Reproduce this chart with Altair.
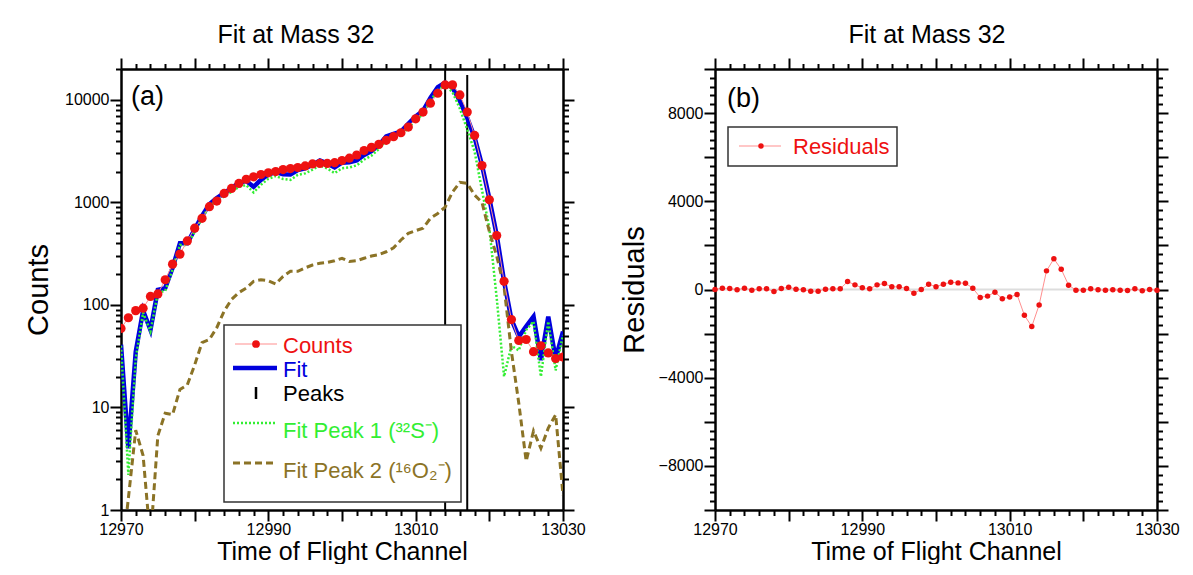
import altair as alt
import pandas as pd

FONT = "Liberation Sans"

# ---------------- data ----------------
channels = list(range(12970, 13031))
counts = [59, 75, 88, 93, 121, 128, 176, 250, 313, 421,
          560, 700, 908, 1030, 1224, 1368, 1530, 1682, 1775, 1871,
          1943, 2000, 2090, 2140, 2190, 2270, 2370, 2400, 2400, 2440,
          2560, 2700, 2900, 3200, 3440, 3680, 4030, 4370, 4780, 5430,
          6540, 7600, 9290, 11600, 13990, 14000, 11180, 7600, 4500, 2290,
          1060, 475, 170, 72, 45, 46, 35, 40, 34, 30, 31]
fit = [41, 4, 35, 88, 57, 140, 146, 230, 400, 400,
       545, 740, 960, 1100, 1230, 1380, 1550, 1620, 1420, 1660,
       1870, 1970, 1880, 1870, 2070, 2150, 2330, 2560, 2400, 2200,
       2440, 2460, 2570, 2900, 3160, 3620, 4390, 4670, 4900, 5850,
       6890, 7830, 10460, 13280, 14690, 13160, 9790, 6680, 4310, 2320,
       1090, 480, 170, 72, 49, 62, 77, 29, 77, 30, 55]
peak1 = [40, 2.2, 30, 84, 55, 132, 137, 222, 385, 383,
         518, 697, 914, 1040, 1143, 1267, 1418, 1474, 1250, 1484,
         1698, 1810, 1690, 1657, 1857, 1920, 2085, 2305, 2140, 1930,
         2155, 2190, 2300, 2615, 2860, 3310, 4060, 4310, 4470, 5350,
         6360, 7270, 9760, 12520, 13850, 11890, 8220, 5150, 3130, 1320,
         560, 117, 20, 40, 36, 57, 69, 20, 69, 23, 51]
peak2 = [0.3, 1.3, 6, 3.4, 0.5, 5.3, 8.8, 8.5, 15, 16.6,
         26, 43, 46, 60, 87, 113, 132, 146, 170, 176,
         172, 160, 190, 213, 213, 230, 245, 255, 260, 270,
         285, 265, 270, 285, 300, 310, 330, 360, 430, 500,
         530, 560, 700, 780, 900, 1260, 1570, 1530, 1180, 1000,
         520, 300, 150, 35, 11, 3, 5.9, 4, 6.3, 8.5, 1.4]
residuals = [0, 60, 45, -15, 60, -30, 30, 30, -90, 45,
             105, 15, -15, -75, -75, 15, 30, 30, 360, 210,
             75, 30, 210, 270, 120, 120, 45, -165, 0, 240,
             120, 240, 330, 300, 285, 60, -360, -300, -120, -420,
             -345, -225, -1170, -1680, -700, 845, 1390, 920, 195, -30,
             -30, 30, -15, -30, -15, -30, -45, 30, -60, 0, -30]
peak_channels = [13014, 13017]
peak_tops = [20000, 17500]

legend_labels = ["Counts", "Fit", "Peaks", "Fit Peak 1 (\u00b3\u00b2S\u207b)",
                 "Fit Peak 2 (\u00b9\u2076O\u2082\u207b)"]
RED = "#ee1111"
PINK = "#ff8f8f"
BLUE = "#0000dd"
GREEN = "#33ee33"
OLIVE = "#8b7326"
legend_colors = [RED, BLUE, "black", GREEN, OLIVE]

x_tick_values = list(range(12970, 13031, 2))
y_log_values = [m * 10 ** e for e in range(0, 5) for m in range(1, 10) if m * 10 ** e <= 20000]
y_lin_values = list(range(-10000, 10001, 400))

df = pd.DataFrame({"ch": channels, "counts": counts, "fit": fit,
                   "p1": peak1, "p2": peak2, "res": residuals})
peaks_df = pd.DataFrame({"ch": peak_channels, "base": [1, 1], "top": peak_tops})
one = pd.DataFrame({"k": [0]})
zero_df = pd.DataFrame({"z": [0]})

xs = alt.Scale(domain=[12970, 13030], nice=False, zero=False)
ys_log = alt.Scale(type="log", domain=[1, 20000], nice=False)
ys_lin = alt.Scale(domain=[-10000, 10000], nice=False, zero=False)

x_tick_size = {"condition": {"test": "datum.value % 10 == 0", "value": 11}, "value": 5.5}
log_tick_size = {"condition": {"test": "indexof([1,10,100,1000,10000], datum.value) >= 0", "value": 11},
                 "value": 5.5}
lin_tick_size = {"condition": {"test": "datum.value % 2000 == 0", "value": 11}, "value": 5.5}

x_bottom = alt.Axis(orient="bottom", values=x_tick_values, tickSize=x_tick_size,
                    labelExpr="datum.value % 20 == 10 ? format(datum.value, 'd') : ''",
                    title="Time of Flight Channel", titlePadding=2, labelPadding=0,
                    titleFontSize=25)
x_top = alt.Axis(orient="top", values=x_tick_values, tickSize=x_tick_size, labels=False, title=None,
                 minExtent=11, maxExtent=11)

y_left_log = alt.Axis(orient="left", values=y_log_values, tickSize=log_tick_size,
                      labelExpr="indexof([1,10,100,1000,10000], datum.value) >= 0 ? format(datum.value, 'd') : ''",
                      title="Counts", minExtent=58, maxExtent=58, titlePadding=10, labelPadding=1)
y_right_log = alt.Axis(orient="right", values=y_log_values, tickSize=log_tick_size, labels=False, title=None,
                       minExtent=11, maxExtent=11)

y_left_lin = alt.Axis(orient="left", values=y_lin_values, tickSize=lin_tick_size,
                      labelExpr="datum.value % 4000 == 0 ? format(datum.value, 'd') : ''",
                      title="Residuals", minExtent=58, maxExtent=58, titlePadding=8, labelPadding=1)
y_right_lin = alt.Axis(orient="right", values=y_lin_values, tickSize=lin_tick_size, labels=False, title=None,
                       minExtent=11, maxExtent=11)


def leg_line(x1, x2, y, color, width, dash=None):
    kw = dict(color=color, strokeWidth=width)
    if dash:
        kw["strokeDash"] = dash
    return alt.Chart(one).mark_rule(**kw).encode(x=alt.value(x1), x2=alt.value(x2), y=alt.value(y))


def leg_text(x, y, text, color):
    return alt.Chart(one).mark_text(text=text, align="left", baseline="middle", font=FONT,
                                    fontSize=22, color=color).encode(x=alt.value(x), y=alt.value(y))


# ---------------- left panel ----------------
frame_l = alt.Chart(df).mark_line(opacity=0).encode(
    x=alt.X("ch:Q", scale=xs, axis=x_top), y=alt.Y("counts:Q", scale=ys_log, axis=y_right_log))
peaks_rule = alt.Chart(peaks_df).mark_rule(color="black", strokeWidth=2).encode(
    x=alt.X("ch:Q", scale=xs, axis=None), y=alt.Y("base:Q", scale=ys_log, axis=None), y2="top:Q")
fit_line = alt.Chart(df).mark_line(color=BLUE, strokeWidth=4.5, clip=True).encode(
    x=alt.X("ch:Q", scale=xs, axis=x_bottom), y=alt.Y("fit:Q", scale=ys_log, axis=y_left_log))
p1_line = alt.Chart(df).mark_line(color=GREEN, strokeWidth=2.5, strokeDash=[2, 2], clip=True).encode(
    x=alt.X("ch:Q", scale=xs, axis=None), y=alt.Y("p1:Q", scale=ys_log, axis=None))
p2_line = alt.Chart(df).mark_line(color=OLIVE, strokeWidth=3, strokeDash=[7, 4], clip=True).encode(
    x=alt.X("ch:Q", scale=xs, axis=None), y=alt.Y("p2:Q", scale=ys_log, axis=None))
cnt_line = alt.Chart(df).mark_line(color=PINK, strokeWidth=1, clip=True).encode(
    x=alt.X("ch:Q", scale=xs, axis=None), y=alt.Y("counts:Q", scale=ys_log, axis=None))
cnt_pts = alt.Chart(df).mark_circle(color=RED, size=85, opacity=1, clip=True).encode(
    x=alt.X("ch:Q", scale=xs, axis=None), y=alt.Y("counts:Q", scale=ys_log, axis=None))

leg_box_l = alt.Chart(one).mark_rect(fill="white", stroke="#333333", strokeWidth=1.5).encode(
    x=alt.value(103), x2=alt.value(340), y=alt.value(256), y2=alt.value(433))
leg_rows_y = [275, 299, 324, 354, 394]
leg_text_y = [277, 301, 325, 362, 402]
legend_layers = [
    leg_box_l,
    leg_line(114, 156, leg_rows_y[0], PINK, 1),
    alt.Chart(one).mark_circle(color=RED, size=60, opacity=1).encode(x=alt.value(135), y=alt.value(leg_rows_y[0])),
    leg_line(112, 156, leg_rows_y[1], BLUE, 4.5),
    leg_line(135, 135, 0, "black", 2.5).encode(y=alt.value(318), y2=alt.value(330)),
    leg_line(112, 156, leg_rows_y[3], GREEN, 2.5, [2, 2]),
    leg_line(112, 156, leg_rows_y[4], OLIVE, 3, [7, 4]),
]
for lab, col, ty in zip(legend_labels, legend_colors, leg_text_y):
    legend_layers.append(leg_text(162, ty, lab, col))

tag_a = alt.Chart(one).mark_text(text="(a)", align="left", baseline="middle", font=FONT,
                                 fontSize=27, color="black").encode(x=alt.value(10), y=alt.value(28))

left = alt.layer(frame_l, peaks_rule, fit_line, p1_line, p2_line, cnt_line, cnt_pts,
                 *legend_layers, tag_a).resolve_axis(x="independent", y="independent").properties(
    width=442, height=441,
    title=alt.TitleParams("Fit at Mass 32", fontSize=25, font=FONT, fontWeight="normal",
                          anchor="middle", dx=-46, offset=9, color="black"))

# ---------------- right panel ----------------
frame_r = alt.Chart(df).mark_line(opacity=0).encode(
    x=alt.X("ch:Q", scale=xs, axis=x_top), y=alt.Y("res:Q", scale=ys_lin, axis=y_right_lin))
zero_rule = alt.Chart(zero_df).mark_rule(color="#dddddd", strokeWidth=2).encode(
    y=alt.Y("z:Q", scale=ys_lin, axis=None))
res_line = alt.Chart(df).mark_line(color=PINK, strokeWidth=1).encode(
    x=alt.X("ch:Q", scale=xs, axis=x_bottom), y=alt.Y("res:Q", scale=ys_lin, axis=y_left_lin))
res_pts = alt.Chart(df).mark_circle(color=RED, size=30, opacity=1).encode(
    x=alt.X("ch:Q", scale=xs, axis=None), y=alt.Y("res:Q", scale=ys_lin, axis=None))
leg_box_r = alt.Chart(one).mark_rect(fill="white", stroke="#333333", strokeWidth=1.5).encode(
    x=alt.value(13), x2=alt.value(182), y=alt.value(58), y2=alt.value(97))
leg_r_line = leg_line(24, 66, 77, PINK, 1)
leg_r_dot = alt.Chart(one).mark_circle(color=RED, size=30, opacity=1).encode(x=alt.value(46), y=alt.value(77))
leg_r_text = leg_text(78, 78, "Residuals", RED)
tag_b = alt.Chart(one).mark_text(text="(b)", align="left", baseline="middle", font=FONT,
                                 fontSize=27, color="black").encode(x=alt.value(12), y=alt.value(30))

right = alt.layer(frame_r, zero_rule, res_line, res_pts, leg_box_r, leg_r_line, leg_r_dot,
                  leg_r_text, tag_b).resolve_axis(x="independent", y="independent").properties(
    width=442, height=441,
    title=alt.TitleParams("Fit at Mass 32", fontSize=25, font=FONT, fontWeight="normal",
                          anchor="middle", dx=-9, offset=9, color="black"))

chart = alt.hconcat(left, right, spacing=34).properties(
    padding={"left": 16, "top": 15, "right": 0, "bottom": 0}
).configure_view(stroke=None).configure_axis(
    domainColor="black", domainWidth=2.5, tickColor="black", tickWidth=2, grid=False,
    labelFont=FONT, labelFontSize=16, labelColor="black", labelOverlap=False, labelFlush=False,
    titleFont=FONT, titleFontSize=29, titleFontWeight="normal", titleColor="black"
)

chart.save("out.html", embed_options={"renderer": "svg", "actions": False})
